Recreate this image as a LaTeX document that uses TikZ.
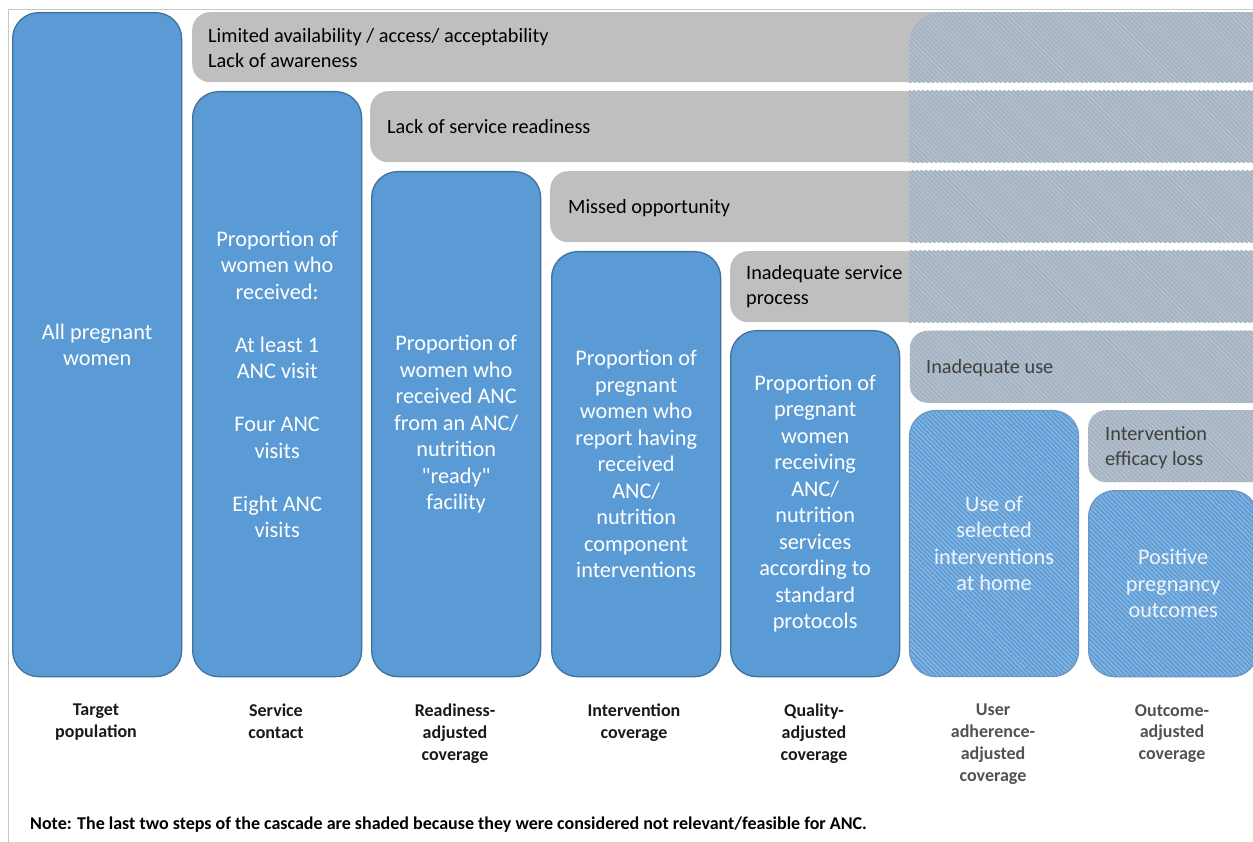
\documentclass[tikz,border=0pt]{standalone}
\usepackage{fontspec}
\setmainfont{Carlito}
\newfontfamily\plainq{Carlito}
\usetikzlibrary{patterns.meta,positioning}
\definecolor{boxblue}{HTML}{5B9BD5}
\definecolor{boxedge}{HTML}{41719C}
\definecolor{bargray}{HTML}{BFBFBF}
\definecolor{hatchbase}{HTML}{BDBFC2}
\definecolor{hatchline}{HTML}{9CB2CB}
\definecolor{hblue}{HTML}{5E9DD6}
\definecolor{hblueline}{HTML}{8DB9E2}
\definecolor{hedge}{HTML}{6D97C2}
\definecolor{framegray}{HTML}{C8C8C8}
\begin{document}
\begin{tikzpicture}[x=1pt,y=-1pt,
  colbox/.style={rectangle, rounded corners=26pt, fill=boxblue, draw=boxedge, line width=1.3pt,
    text=white, align=center, minimum width=169pt, anchor=north west, inner sep=0pt,
    font=\fontsize{22.3}{26.5}\selectfont},
  hatchbox/.style={colbox, fill=none, draw=hedge, preaction={fill=hblue},
    pattern={Lines[angle=-45,distance=3.2pt,line width=1.1pt]}, pattern color=hblueline,
    text=white!90!boxblue},
  bar/.style={rectangle, rounded corners=18pt, fill=bargray, anchor=north west, inner sep=0pt},
  hatchbar/.style={bar, fill=none, preaction={fill=hatchbase},
    pattern={Lines[angle=-45,distance=3.2pt,line width=1.5pt]}, pattern color=hatchline},
  bartext/.style={anchor=west, align=left, inner sep=0pt, text=black,
    font=\fontsize{20.3}{25}\selectfont},
  lbl/.style={anchor=north, align=center, inner sep=0pt, text=black!90,
    font=\bfseries\fontsize{18}{21.8}\selectfont},
  lblgray/.style={lbl, text=black!68}
]
\useasboundingbox (0,0) rectangle (1253,842);
\clip (0,0) rectangle (1253,842);

% frame
\draw[framegray, line width=0.8pt] (8,842) -- (8,9) -- (1253,9);

% gray bars
\node[bar, minimum width=1100pt, minimum height=70pt] (b1) at (192,12) {};
\node[bar, minimum width=1000pt, minimum height=71pt] (b2) at (370,91) {};
\node[bar, minimum width=800pt, minimum height=71pt] (b3) at (550,171) {};
\node[bar, minimum width=600pt, minimum height=71pt] (b4) at (730,251) {};
\node[hatchbar, minimum width=400pt, minimum height=72pt] (b5) at (909,330) {};
\node[hatchbar, minimum width=250pt, minimum height=72pt] (b6) at (1088,410) {};

% hatched overlay on the upper bars (last two steps)
\begin{scope}
  \clip (909,330) -- (909,44) arc[start angle=180, end angle=270, radius=32] -- (1300,12) -- (1300,330) -- cycle;
  \foreach \b in {b1,b2,b3,b4}{
    \fill[hatchbase] (\b.north west) rectangle (\b.south east);
    \fill[pattern={Lines[angle=-45,distance=3.2pt,line width=1.5pt]}, pattern color=hatchline]
      (\b.north west) rectangle (\b.south east);
  }
\end{scope}

% bar texts
\node[bartext] (t1) at ([xshift=16pt,yshift=-1pt]b1.west) {Limited availability / access/ acceptability\\Lack of awareness};
\node[bartext] (t2) at ([xshift=17pt]b2.west) {Lack of service readiness};
\node[bartext] (t3) at ([xshift=18pt,yshift=-1.5pt]b3.west) {Missed opportunity};
\node[bartext] (t4) at ([xshift=16pt]b4.west) {Inadequate service\\process};
\node[bartext, text=black!75] (t5) at ([xshift=17pt,yshift=-1pt]b5.west) {Inadequate use};
\node[bartext, text=black!75] (t6) at ([xshift=17pt,yshift=-1pt]b6.west) {Intervention\\efficacy loss};

% blue column boxes
\node[colbox, minimum height=664pt] (c1) at (12,12) {All pregnant\\women};
\node[colbox, minimum height=585pt] (c2) at (192,91) {Proportion of\\women who\\received:\\[26.5pt]At least 1\\ANC visit\\[26.5pt]Four ANC\\visits\\[26.5pt]Eight ANC\\visits};
\node[colbox, minimum height=505pt] (c3) at (371,171) {Proportion of\\women who\\received ANC\\from an ANC/\\nutrition\\{\plainq"}ready{\plainq"}\\facility};
\node[colbox, minimum height=425pt] (c4) at (551,251) {Proportion of\\pregnant\\women who\\report having\\received\\ANC/\\nutrition\\component\\interventions};
\node[colbox, minimum height=346pt] (c5) at (730,330) {Proportion of\\pregnant\\women\\receiving\\ANC/\\nutrition\\services\\according to\\standard\\protocols};
\node[hatchbox, minimum height=266pt] (c6) at (909,410) {Use of\\selected\\interventions\\at home};
\node[hatchbox, minimum height=186pt] (c7) at (1088,490) {Positive\\pregnancy\\outcomes};

% step labels
\node[lbl] (l1) at (96,704) {Target\\population};
\node[lbl] (l2) at (276,704) {Service\\contact};
\node[lbl] (l3) at (455,704) {Readiness-\\adjusted\\coverage};
\node[lbl] (l4) at (634,704) {Intervention\\coverage};
\node[lbl] (l5) at (814,704) {Quality-\\adjusted\\coverage};
\node[lblgray] (l6) at (993,704) {User\\adherence-\\adjusted\\coverage};
\node[lblgray] (l7) at (1172,704) {Outcome-\\adjusted\\coverage};

% note
\node[anchor=west, inner sep=0pt, font=\bfseries\fontsize{18}{20}\selectfont] (note) at (30,825)
  {Note: The last two steps of the cascade are shaded because they were considered not relevant/feasible for ANC.};
\end{tikzpicture}
\end{document}
